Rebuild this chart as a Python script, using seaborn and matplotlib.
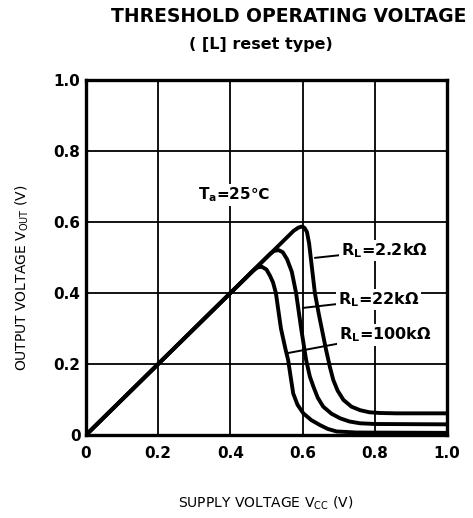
import numpy as np
import pandas as pd
import matplotlib
matplotlib.use("Agg")
import matplotlib.pyplot as plt
import seaborn as sns

# ---- data ----
x_22k_ohm_2 = [0.0, 0.575, 0.588, 0.597, 0.605, 0.612, 0.618, 0.626, 0.634, 0.645,
               0.655, 0.665, 0.676, 0.685, 0.697, 0.713, 0.735, 0.759, 0.785, 0.814, 0.86, 1.0]
y_22k_ohm_2 = [0.0, 0.575, 0.584, 0.587, 0.584, 0.572, 0.54, 0.47, 0.40, 0.34,
               0.29, 0.24, 0.19, 0.155, 0.125, 0.099, 0.08, 0.07, 0.064, 0.062, 0.061, 0.061]

x_22k = [0.0, 0.51, 0.52, 0.533, 0.545, 0.557, 0.57, 0.582, 0.596, 0.61, 0.62,
         0.63, 0.642, 0.657, 0.68, 0.704, 0.73, 0.759, 0.80, 1.0]
y_22k = [0.0, 0.51, 0.518, 0.521, 0.515, 0.495, 0.46, 0.40, 0.30, 0.21, 0.165,
         0.136, 0.105, 0.08, 0.06, 0.047, 0.038, 0.033, 0.031, 0.03]

x_100k = [0.0, 0.463, 0.475, 0.487, 0.50, 0.51, 0.518, 0.526, 0.54, 0.553, 0.56,
          0.566, 0.574, 0.586, 0.602, 0.624, 0.648, 0.67, 0.694, 0.75, 1.0]
y_100k = [0.0, 0.463, 0.472, 0.474, 0.466, 0.448, 0.43, 0.40, 0.30, 0.24, 0.211,
          0.17, 0.117, 0.085, 0.061, 0.042, 0.028, 0.017, 0.01, 0.007, 0.006]

tick_values = [0, 0.2, 0.4, 0.6, 0.8, 1.0]
tick_labels = ["0", "0.2", "0.4", "0.6", "0.8", "1.0"]

curve_names = ["2.2k", "22k", "100k"]

frames = []
for name, xs, ys in zip(curve_names,
                        [x_22k_ohm_2, x_22k, x_100k],
                        [y_22k_ohm_2, y_22k, y_100k]):
    frames.append(pd.DataFrame({"vcc": xs, "vout": ys, "RL": name,
                                "order": range(len(xs))}))
df = pd.concat(frames, ignore_index=True)

# ---- figure ----
sns.set_theme(style="white")
plt.rcParams["font.family"] = ["DejaVu Sans"]
plt.rcParams["mathtext.default"] = "regular"
for k in ["text.color", "axes.labelcolor", "xtick.color", "ytick.color", "axes.edgecolor"]:
    plt.rcParams[k] = "black"

fig = plt.figure(figsize=(4.73, 5.18), dpi=100)
ax = fig.add_axes([86 / 473, 1 - 435 / 518, (447 - 86) / 473, (435 - 80) / 518])

for v in tick_values[1:-1]:
    ax.axvline(v, color="black", lw=1.3, zorder=1)
    ax.axhline(v, color="black", lw=1.3, zorder=1)

for name in curve_names:
    sub = df[df["RL"] == name]
    sns.lineplot(data=sub, x="vcc", y="vout", sort=False, estimator=None,
                 color="black", lw=2.8, ax=ax, zorder=3, legend=False)

ax.set_xlim(0, 1.0)
ax.set_ylim(0, 1.0)
ax.set_xticks(tick_values)
ax.set_yticks(tick_values)
ax.set_xticklabels(tick_labels, fontsize=11, fontweight="bold", color="black")
ax.set_yticklabels(tick_labels, fontsize=11, fontweight="bold", color="black")
ax.tick_params(axis="x", length=0, pad=8)
ax.tick_params(axis="y", length=0, pad=4)
for s in ax.spines.values():
    s.set_visible(True)
    s.set_color("black")
    s.set_linewidth(2.4)
ax.set_xlabel("")
ax.set_ylabel("")

box = dict(facecolor="white", edgecolor="none", pad=1.0)
ax.text(0.41, 0.676, r"$T_a$=25℃", fontsize=11, fontweight="bold", color="black",
        ha="center", va="center", bbox=box, zorder=5)

ann = [(r"$R_L$=2.2kΩ", (0.634, 0.499), (0.706, 0.52)),
       (r"$R_L$=22kΩ", (0.601, 0.358), (0.697, 0.382)),
       (r"$R_L$=100kΩ", (0.56, 0.231), (0.700, 0.282))]
for txt, xy, xyt in ann:
    ax.annotate(txt, xy=xy, xytext=xyt, fontsize=11.5, fontweight="bold",
                color="black", ha="left", va="center", bbox=box, zorder=5,
                arrowprops=dict(arrowstyle="-", color="black", lw=1.4,
                                shrinkA=0, shrinkB=0))

fig.text(289 / 473, 1 - 17 / 518, "THRESHOLD OPERATING VOLTAGE",
         fontsize=13.5, fontweight="bold", color="black", ha="center", va="center")
fig.text(261 / 473, 1 - 45 / 518, "( [L] reset type)",
         fontsize=11.5, fontweight="bold", color="black", ha="center", va="center")
fig.text(266 / 473, 1 - 503 / 518, r"SUPPLY VOLTAGE $V_{CC}$ (V)",
         fontsize=10, color="black", ha="center", va="center")
fig.text(22 / 473, 1 - 278 / 518, r"OUTPUT VOLTAGE $V_{OUT}$ (V)",
         fontsize=10, color="black", ha="center", va="center", rotation=90)

fig.savefig("out.png", dpi=100, facecolor="white")
